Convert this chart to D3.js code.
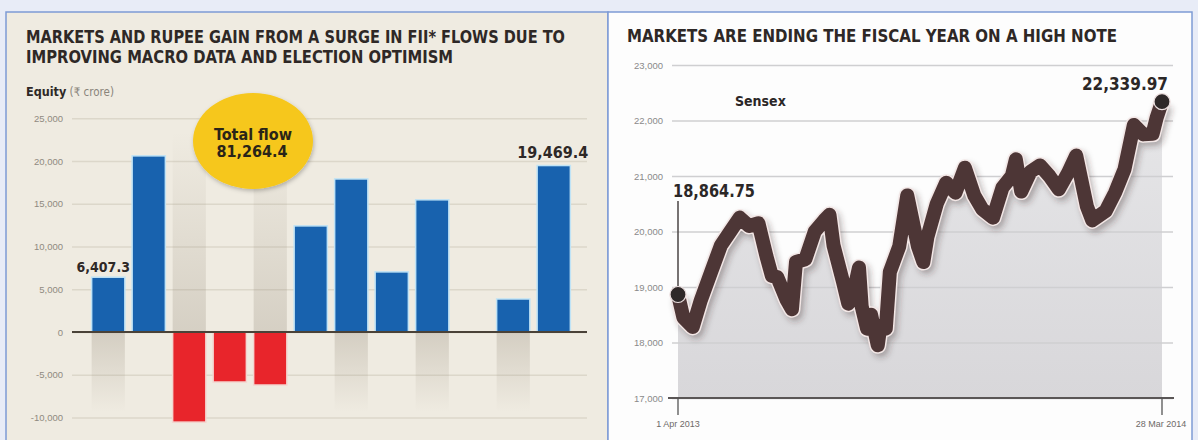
<!DOCTYPE html>
<html><head><meta charset="utf-8">
<script src="https://cdn.jsdelivr.net/npm/d3@7"></script>
<style>body{margin:0;background:#e8ecf7;} svg{display:block}</style>
</head><body><svg id="c" width="1198" height="440"></svg>
<script>
// ---------- DATA ----------
const months = ["Apr 2013","May 2013","Jun 2013","Jul 2013","Aug 2013","Sep 2013","Oct 2013","Nov 2013","Dec 2013","Jan 2014","Feb 2014","Mar 2014"];
const equityFlows = [6407.3, 20600, -10540, -5850, -6200, 12410, 17900, 7030, 15460, 0, 3860, 19469.4];
const leftTicks = [25000, 20000, 15000, 10000, 5000, 0, -5000, -10000];
const leftTickLabels = ["25,000","20,000","15,000","10,000","5,000","0","-5,000","-10,000"];
const labelledBars = {0: "6,407.3", 11: "19,469.4"};
const totalFlowLabel = ["Total flow", "81,264.4"];

const sensexDates = ["2013-04-01","2013-04-05","2013-04-12","2013-04-18","2013-04-26","2013-05-03","2013-05-10","2013-05-17","2013-05-24","2013-05-31","2013-06-06","2013-06-10","2013-06-14","2013-06-21","2013-06-25","2013-06-28","2013-07-05","2013-07-12","2013-07-19","2013-07-23","2013-07-26","2013-08-02","2013-08-06","2013-08-09","2013-08-14","2013-08-16","2013-08-20","2013-08-23","2013-08-28","2013-08-30","2013-09-03","2013-09-06","2013-09-13","2013-09-19","2013-09-27","2013-10-01","2013-10-04","2013-10-11","2013-10-18","2013-10-25","2013-11-01","2013-11-08","2013-11-14","2013-11-22","2013-11-29","2013-12-06","2013-12-09","2013-12-13","2013-12-20","2013-12-27","2014-01-03","2014-01-10","2014-01-17","2014-01-23","2014-01-31","2014-02-04","2014-02-14","2014-02-21","2014-02-28","2014-03-07","2014-03-14","2014-03-21","2014-03-24","2014-03-28"];
const sensexValues = [18864.75,18450,18280,18760,19290,19750,20000,20250,20100,20150,19550,19200,19180,18770,18600,19450,19500,20000,20200,20300,19750,19100,18700,18800,19350,18650,18250,18500,17950,18300,18250,19270,19730,20650,19730,19450,19900,20500,20880,20700,21150,20650,20400,20250,20790,21000,21300,20720,21080,21190,21000,20760,21060,21370,20450,20200,20370,20700,21120,21920,21750,21760,22050,22339.97];
const rightTicks = [23000, 22000, 21000, 20000, 19000, 18000, 17000];
const rightTickLabels = ["23,000","22,000","21,000","20,000","19,000","18,000","17,000"];
const startLabel = "18,864.75", endLabel = "22,339.97";
const xLabels = ["1 Apr 2013", "28 Mar 2014"];

// ---------- SETUP ----------
const svg = d3.select("#c");
const defs = svg.append("defs");
const gDown = defs.append("linearGradient").attr("id","shDown").attr("x1",0).attr("y1",0).attr("x2",0).attr("y2",1);
gDown.append("stop").attr("offset","0%").attr("stop-color","#9a9080").attr("stop-opacity",0.32);
gDown.append("stop").attr("offset","100%").attr("stop-color","#9a9080").attr("stop-opacity",0);
const gUp = defs.append("linearGradient").attr("id","shUp").attr("x1",0).attr("y1",1).attr("x2",0).attr("y2",0);
gUp.append("stop").attr("offset","0%").attr("stop-color","#9a9080").attr("stop-opacity",0.3);
gUp.append("stop").attr("offset","100%").attr("stop-color","#9a9080").attr("stop-opacity",0);
const aG = defs.append("linearGradient").attr("id","areaG").attr("x1",0).attr("y1",0).attr("x2",0).attr("y2",1);
aG.append("stop").attr("offset","0%").attr("stop-color","#e6e6e8");
aG.append("stop").attr("offset","100%").attr("stop-color","#d8d7da");
const blur = defs.append("filter").attr("id","blur").attr("x","-10%").attr("y","-10%").attr("width","120%").attr("height","120%");
blur.append("feGaussianBlur").attr("stdDeviation",3);
const ds = defs.append("filter").attr("id","ds").attr("x","-20%").attr("y","-20%").attr("width","140%").attr("height","140%");
ds.append("feDropShadow").attr("dx",1).attr("dy",2).attr("stdDeviation",2).attr("flood-color","#000").attr("flood-opacity",0.25);

const titleFont = "'Liberation Sans Narrow','DejaVu Sans Condensed','Liberation Sans',sans-serif";
const smallFont = "'Liberation Sans',sans-serif";

// panels
svg.append("rect").attr("x",6).attr("y",12).attr("width",602).attr("height",440)
  .attr("fill","#efebe1").attr("stroke","#7d9bd5").attr("stroke-width",1.5);
svg.append("rect").attr("x",608).attr("y",12).attr("width",584).attr("height",440)
  .attr("fill","#fdfdfd").attr("stroke","#7d9bd5").attr("stroke-width",1.5);

// ---------- LEFT PANEL ----------
const L = svg.append("g");
function title(g, x, y, len, txt, size) {
  return g.append("text").attr("x",x).attr("y",y).attr("font-family",titleFont).attr("font-weight","bold")
    .attr("font-size",size||17).attr("fill","#2e2826").attr("textLength",len).attr("lengthAdjust","spacingAndGlyphs").text(txt);
}
title(L, 26, 43, 539, "MARKETS AND RUPEE GAIN FROM A SURGE IN FII* FLOWS DUE TO");
title(L, 26, 63, 427, "IMPROVING MACRO DATA AND ELECTION OPTIMISM");
L.append("text").attr("x",26).attr("y",96).attr("font-family",titleFont).attr("font-size",12.5).attr("fill","#2e2826")
  .call(t=>{ t.append("tspan").attr("font-weight","bold").text("Equity");
             t.append("tspan").attr("fill","#8a857b").attr("font-size",11.5).text(" (₹ crore)"); });

const xb = d3.scaleBand().domain(months).range([88,574]).paddingInner(0.18).paddingOuter(0.09);
const yl = d3.scaleLinear().domain([-10000,25000]).range([417.5,118.25]);

// gridlines + labels via axis
const la = L.append("g").attr("transform","translate(72,0)")
  .call(d3.axisLeft(yl).tickValues(leftTicks).tickSize(-515).tickFormat((d,i)=>leftTickLabels[i]));
la.select(".domain").remove();
la.selectAll(".tick line").attr("stroke","#dcd7ca").attr("stroke-width",1.6);
la.selectAll(".tick text").attr("x",-9).attr("font-family",smallFont).attr("font-size",9.5).attr("fill","#8f8a80");

// decorative shade columns
L.selectAll("rect.shade").data(equityFlows.map((v,i)=>({v,i})).filter(d=>d.i%2===0)).join("rect")
  .attr("x",d=>xb(months[d.i])).attr("width",xb.bandwidth())
  .attr("y",d=>d.v>=0 ? yl(0) : yl(0)-200)
  .attr("height",d=>d.v>=0 ? 80 : 200)
  .attr("fill",d=>d.v>=0 ? "url(#shDown)" : "url(#shUp)");

// yellow bubble
L.append("ellipse").attr("cx",253).attr("cy",141).attr("rx",60).attr("ry",48).attr("fill","#f6c71b").attr("filter","url(#ds)");
L.append("text").attr("x",253).attr("y",140).attr("text-anchor","middle").attr("font-family",titleFont)
  .attr("font-weight","bold").attr("font-size",16).attr("fill","#2a2418").text(totalFlowLabel[0]);
L.append("text").attr("x",252).attr("y",157).attr("text-anchor","middle").attr("font-family",titleFont)
  .attr("font-weight","bold").attr("font-size",16).attr("fill","#2a2418").text(totalFlowLabel[1]);

// bars
L.selectAll("rect.bar").data(equityFlows.map((v,i)=>({v,i}))).join("rect")
  .attr("x",d=>xb(months[d.i])).attr("width",xb.bandwidth())
  .attr("y",d=>yl(Math.max(0,d.v))).attr("height",d=>Math.abs(yl(d.v)-yl(0)))
  .attr("fill",d=>d.v>=0 ? "#1862ae" : "#e8252b")
  .attr("stroke",d=>d.v>=0 ? "#bfe3f6" : "#f4d6d0").attr("stroke-width",d=>d.v===0?3:1.5);

// zero line
L.append("line").attr("x1",72).attr("x2",587).attr("y1",yl(0)).attr("y2",yl(0)).attr("stroke","#4a4238").attr("stroke-width",2);

// bar labels
Object.entries(labelledBars).forEach(([i,t])=>{
  i=+i; const v=equityFlows[i];
  L.append("text").attr("x",xb(months[i])+xb.bandwidth()/2 + (i===0?-5:-1)).attr("y",yl(v)-(i===0?5:8))
    .attr("text-anchor","middle").attr("font-family",titleFont).attr("font-weight","bold")
    .attr("font-size",i===0?14:16).attr("fill","#2e2826")
    .attr("stroke","#f5f2ea").attr("stroke-width",0.6).attr("paint-order","stroke").text(t);
});

// ---------- RIGHT PANEL ----------
const R = svg.append("g");
title(R, 627, 42, 490, "MARKETS ARE ENDING THE FISCAL YEAR ON A HIGH NOTE");

const parse = d3.timeParse("%Y-%m-%d");
const sensex = sensexDates.map((d,i)=>({date:parse(d), value:sensexValues[i]}));
const xt = d3.scaleTime().domain([sensex[0].date, sensex[sensex.length-1].date]).range([678,1162]);
const yr = d3.scaleLinear().domain([17000,23000]).range([398,65]);

// area
R.append("path").datum(sensex).attr("fill","url(#areaG)")
  .attr("d", d3.area().x(d=>xt(d.date)).y0(yr(17000)).y1(d=>yr(d.value)));

// gridlines
const ra = R.append("g").attr("transform","translate(672,0)")
  .call(d3.axisLeft(yr).tickValues(rightTicks).tickSize(-501).tickFormat((d,i)=>rightTickLabels[i]));
ra.select(".domain").remove();
ra.selectAll(".tick line").attr("stroke","#cfcfd1").attr("stroke-width",1.3);
ra.selectAll(".tick text").attr("x",-9).attr("font-family",smallFont).attr("font-size",9.5).attr("fill","#8a8a8a");

// x axis
R.append("line").attr("x1",668).attr("x2",1174).attr("y1",yr(17000)).attr("y2",yr(17000)).attr("stroke","#5a5656").attr("stroke-width",2);
const endpoints = [sensex[0], sensex[sensex.length-1]];
R.selectAll("line.xt").data(endpoints).join("line")
  .attr("x1",d=>xt(d.date)).attr("x2",d=>xt(d.date)).attr("y1",yr(17000)).attr("y2",yr(17000)+17)
  .attr("stroke","#555").attr("stroke-width",1.3);
R.selectAll("text.xl").data(endpoints).join("text")
  .attr("x",(d,i)=>xt(d.date)+(i===0?0:-1)).attr("y",427).attr("text-anchor","middle")
  .attr("font-family",smallFont).attr("font-size",9).attr("fill","#6e6a68").text((d,i)=>xLabels[i]);

// leader line for start
R.append("line").attr("x1",xt(sensex[0].date)).attr("x2",xt(sensex[0].date)).attr("y1",201).attr("y2",yr(sensex[0].value))
  .attr("stroke","#4a4545").attr("stroke-width",1.5);

// line with shadow + halo
const line = d3.line().x(d=>xt(d.date)).y(d=>yr(d.value));
R.append("path").datum(sensex).attr("d",line).attr("fill","none").attr("stroke","#3a2a2a").attr("stroke-opacity",0.35)
  .attr("stroke-width",16).attr("stroke-linejoin","round").attr("filter","url(#blur)").attr("transform","translate(3,4)");
R.append("path").datum(sensex).attr("d",line).attr("fill","none").attr("stroke","#f3e7e6")
  .attr("stroke-width",17).attr("stroke-linejoin","round").attr("stroke-linecap","round");
R.append("path").datum(sensex).attr("d",line).attr("fill","none").attr("stroke","#4d3636")
  .attr("stroke-width",14).attr("stroke-linejoin","round").attr("stroke-linecap","round");

// end dots
R.selectAll("circle.dot").data(endpoints).join("circle")
  .attr("cx",d=>xt(d.date)).attr("cy",d=>yr(d.value)).attr("r",8)
  .attr("fill","#2e2828").attr("stroke","#eadede").attr("stroke-width",1.2);

// labels
R.append("text").attr("x",673).attr("y",197).attr("font-family",titleFont).attr("font-weight","bold")
  .attr("font-size",17).attr("fill","#2b2727").attr("textLength",82).attr("lengthAdjust","spacingAndGlyphs").text(startLabel);
R.append("text").attr("x",1168).attr("y",90).attr("text-anchor","end").attr("font-family",titleFont).attr("font-weight","bold")
  .attr("font-size",17).attr("fill","#2b2727").text(endLabel);
R.append("text").attr("x",735).attr("y",106).attr("font-family",titleFont).attr("font-weight","bold")
  .attr("font-size",14).attr("fill","#2b2727").text("Sensex");
</script></body></html>
